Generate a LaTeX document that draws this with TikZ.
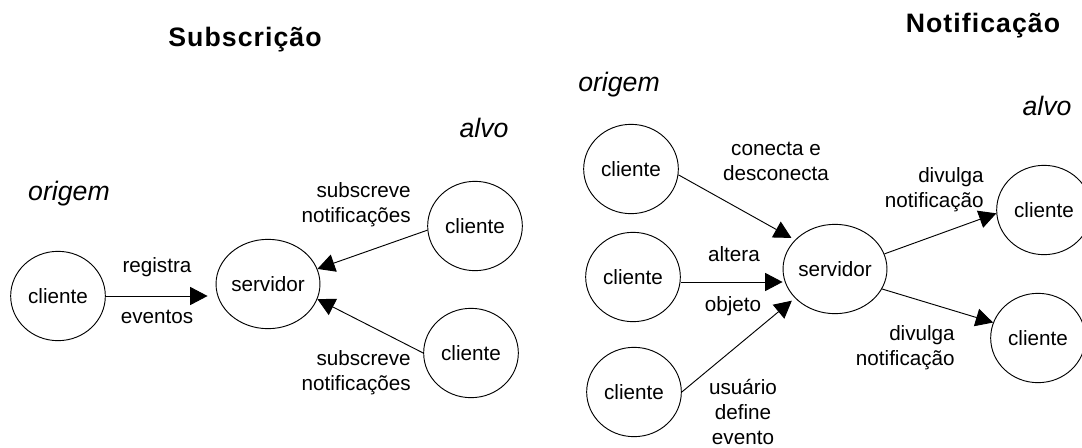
\documentclass[tikz,border=0pt]{standalone}
\usepackage{fontspec}
\setmainfont{Liberation Sans}
\newfontfamily\headfont[LetterSpace=4]{Liberation Sans}
\usetikzlibrary{arrows.meta}
\usetikzlibrary{shapes.geometric}

\begin{document}
\begin{tikzpicture}[x=0.75pt, y=-0.75pt,
    proc/.style={draw, ellipse, line width=0.7pt, minimum width=71pt, minimum height=67pt, inner sep=0pt,
        font=\fontsize{15.5}{18.75}\selectfont},
    lbl/.style={inner sep=0pt, font=\fontsize{15.5}{18.75}\selectfont},
    role/.style={inner sep=0pt, anchor=base, font=\fontsize{20}{24}\selectfont\itshape},
    heading/.style={inner sep=0pt, anchor=base, font=\headfont\bfseries\fontsize{20}{24}\selectfont},
    msg/.style={-{Triangle[length=13pt, width=13.5pt]}, line width=0.7pt}]

    \useasboundingbox (0,0) rectangle (1082,447);

    % subscricao
    \node[heading] (tsub) at (245,46) {Subscrição};
    \node[role] (osub) at (69,200) {origem};
    \node[role] (asub) at (484,137) {alvo};

    \node[proc] (csrc) at (58,296) {cliente};
    \node[proc] (ssub) at (268,284) {servidor};
    \node[proc] (ctop) at (475,226) {cliente};
    \node[proc] (cbot) at (471,353) {cliente};

    \draw[msg, shorten >=6pt] (csrc) -- (csrc -| ssub.west);
    \draw[msg] (ctop.185) -- (ssub.17);
    \draw[msg] (cbot.180) -- (ssub.-17);

    \node[lbl, anchor=base] (lreg) at (157,272) {registra};
    \node[lbl, anchor=base] (lev) at (157,323) {eventos};
    \node[lbl, align=right, anchor=east] (lsub1) at (411,205) {subscreve\\notificações};
    \node[lbl, align=right, anchor=east] (lsub2) at (411,373) {subscreve\\notificações};

    % notificacao
    \node[heading] (tnot) at (983,32) {Notificação};
    \node[role] (onot) at (619,91) {origem};
    \node[role] (anot) at (1047,115) {alvo};

    \node[proc] (ca) at (631,169) {cliente};
    \node[proc] (cb) at (633,277) {cliente};
    \node[proc] (cc) at (634,392) {cliente};
    \node[proc] (snot) at (835,269) {servidor};
    \node[proc] (da) at (1044,210) {cliente};
    \node[proc] (db) at (1038,338) {cliente};

    \draw[msg, shorten >=3pt] (ca.-7) -- (snot.144);
    \draw[msg] (cb.-6) -- (cb.-6 -| snot.west);
    \draw[msg, shorten >=3pt] (cc.east) -- (snot.216);
    \draw[msg] (snot.17) -- (da.184);
    \draw[msg] (snot.-23) -- (db.161);

    \node[lbl, align=center] (lconn) at (776,161) {conecta e\\desconecta};
    \node[lbl, anchor=base] (lalt) at (734,261) {altera};
    \node[lbl, anchor=base] (lobj) at (733,311) {objeto};
    \node[lbl, align=center, anchor=south] (lusr) at (743,445) {usuário\\define\\evento};
    \node[lbl, align=right, anchor=east] (ldiv1) at (984,190) {divulga\\notificação};
    \node[lbl, align=right, anchor=east] (ldiv2) at (955,348) {divulga\\notificação};

\end{tikzpicture}
\end{document}
